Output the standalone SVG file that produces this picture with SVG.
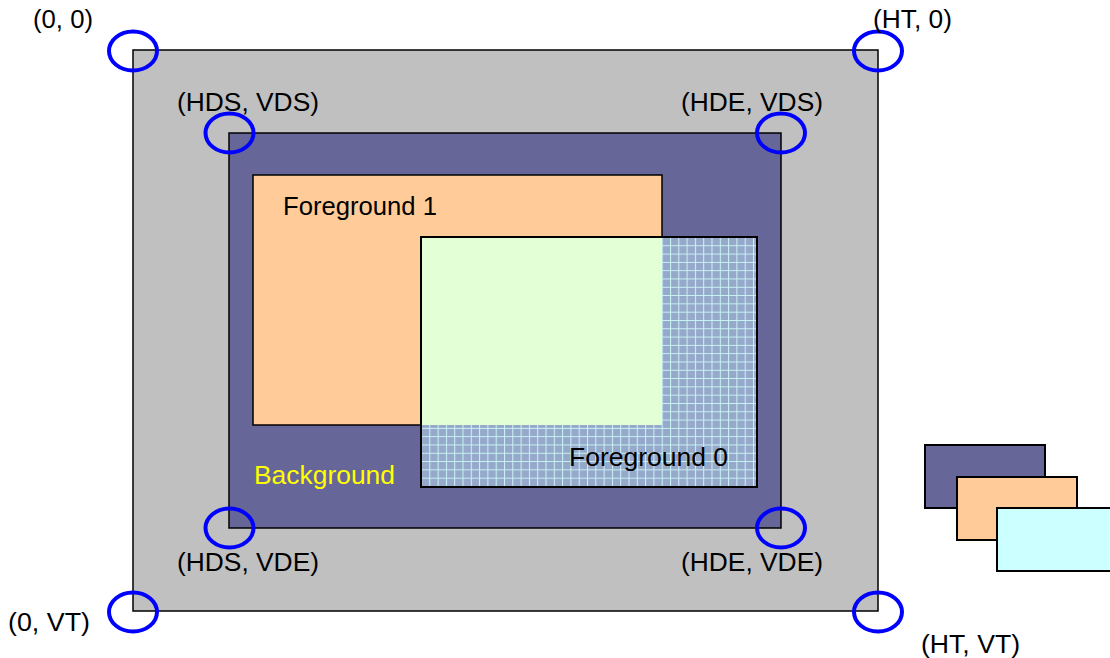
<svg xmlns="http://www.w3.org/2000/svg" width="1110" height="658" viewBox="0 0 1110 658">
<style>
.t{font-family:"Liberation Sans",Arial,sans-serif;font-size:26px;fill:#000}
.c{fill:none;stroke:#0000ff;stroke-width:4}
.b{stroke:#000;stroke-width:1.5}
.s{stroke:#000;stroke-width:2}
</style>
<defs>
<pattern id="grid" x="421" y="237" width="8.3" height="8.3" patternUnits="userSpaceOnUse">
<rect width="8.3" height="8.3" fill="#97a9cb"/>
<path d="M0 0.5H8.3M0.5 0V8.3" stroke="#c8f4f4" stroke-width="1"/>
</pattern>
</defs>
<rect width="1110" height="658" fill="#fff"/>
<g id="frame">
<rect x="133" y="50" width="745" height="561" fill="#c0c0c0" class="b"/>
</g>
<g id="background">
<rect x="229" y="133" width="552" height="395" fill="#666699" class="b"/>
<text x="254" y="484" class="t" style="fill:#ffff00" textLength="141" lengthAdjust="spacingAndGlyphs">Background</text>
</g>
<g id="foreground1">
<rect x="253" y="175" width="409" height="250" fill="#ffcc99" class="b"/>
<text x="283" y="215" class="t" textLength="154" lengthAdjust="spacingAndGlyphs">Foreground 1</text>
</g>
<g id="foreground0">
<rect x="421" y="237" width="336" height="250" fill="url(#grid)" class="s"/>
<rect x="422" y="238" width="240" height="187" fill="#e2ffd6"/>
<text x="569" y="466" class="t" textLength="159" lengthAdjust="spacingAndGlyphs">Foreground 0</text>
</g>
<g id="corners">
<ellipse cx="133" cy="51" rx="24" ry="19.5" class="c"/>
<ellipse cx="878" cy="51" rx="24" ry="19.5" class="c"/>
<ellipse cx="229.5" cy="133" rx="24" ry="19.5" class="c"/>
<ellipse cx="781" cy="133" rx="24" ry="19.5" class="c"/>
<ellipse cx="229.5" cy="528" rx="24" ry="19.5" class="c"/>
<ellipse cx="781" cy="528" rx="24" ry="19.5" class="c"/>
<ellipse cx="133" cy="612" rx="24" ry="19.5" class="c"/>
<ellipse cx="878" cy="612" rx="24" ry="19.5" class="c"/>
</g>
<g id="labels">
<text x="33" y="28" class="t" textLength="60" lengthAdjust="spacingAndGlyphs">(0, 0)</text>
<text x="873" y="28" class="t" textLength="79" lengthAdjust="spacingAndGlyphs">(HT, 0)</text>
<text x="177" y="111" class="t" textLength="142" lengthAdjust="spacingAndGlyphs">(HDS, VDS)</text>
<text x="681" y="111" class="t" textLength="142" lengthAdjust="spacingAndGlyphs">(HDE, VDS)</text>
<text x="177" y="571" class="t" textLength="142" lengthAdjust="spacingAndGlyphs">(HDS, VDE)</text>
<text x="681" y="571" class="t" textLength="142" lengthAdjust="spacingAndGlyphs">(HDE, VDE)</text>
<text x="8" y="631" class="t" textLength="82" lengthAdjust="spacingAndGlyphs">(0, VT)</text>
<text x="921" y="653" class="t" textLength="99" lengthAdjust="spacingAndGlyphs">(HT, VT)</text>
</g>
<g id="legend">
<rect x="925" y="445" width="120" height="63" fill="#666699" class="s"/>
<rect x="957" y="477" width="120" height="63" fill="#ffcc99" class="s"/>
<rect x="997" y="508" width="120" height="63" fill="#ccffff" class="s"/>
</g>
</svg>
